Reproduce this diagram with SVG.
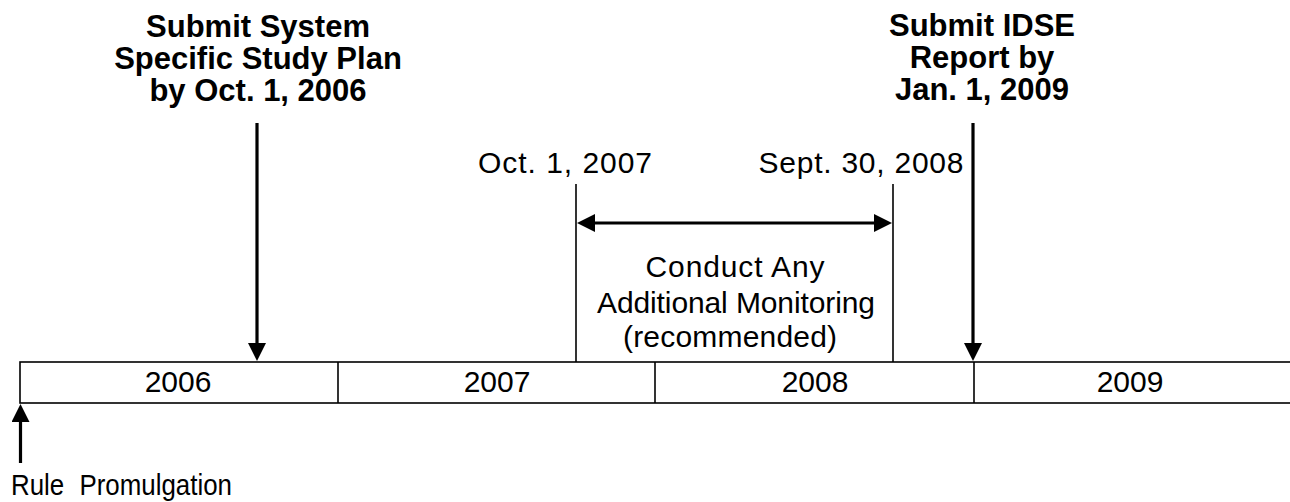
<svg xmlns="http://www.w3.org/2000/svg" width="1290" height="502" viewBox="0 0 1290 502">
  <style>
    text { font-family: "Liberation Sans", Arial, sans-serif; fill: #000; }
    .lbl { font-size: 30px; }
    .yr { font-size: 30px; text-anchor: middle; }
    .bold { font-size: 31px; font-weight: bold; text-anchor: middle; }
    .mid { text-anchor: middle; }
    .bar { fill: #fff; stroke: #000; stroke-width: 1.6; }
    .thin { stroke: #000; stroke-width: 1.6; fill: none; }
    .arrow { stroke: #000; stroke-width: 3.2; fill: none; }
  </style>
  <defs>
    <marker id="ah" viewBox="0 0 18 18" refX="8" refY="9" markerWidth="18" markerHeight="18" markerUnits="userSpaceOnUse" orient="auto-start-reverse">
      <path d="M0,0 L18,9 L0,18 Z" fill="#000"/>
    </marker>
  </defs>
  <rect width="1290" height="502" fill="#fff"/>

  <g id="timeline">
    <rect class="bar" x="20" y="362" width="1290" height="41"/>
    <line class="thin" x1="338" y1="362" x2="338" y2="403"/>
    <line class="thin" x1="655" y1="362" x2="655" y2="403"/>
    <line class="thin" x1="974" y1="362" x2="974" y2="403"/>
    <text class="yr" x="178" y="392">2006</text>
    <text class="yr" x="497" y="392">2007</text>
    <text class="yr" x="815" y="392">2008</text>
    <text class="yr" x="1130" y="392">2009</text>
  </g>

  <g id="study-plan">
    <text class="bold" x="258" y="37">Submit System</text>
    <text class="bold" x="258" y="69">Specific Study Plan</text>
    <text class="bold" x="258" y="101">by Oct. 1, 2006</text>
  </g>

  <g id="idse-report">
    <text class="bold" x="982" y="36">Submit IDSE</text>
    <text class="bold" x="982" y="68">Report by</text>
    <text class="bold" x="982" y="100">Jan. 1, 2009</text>
  </g>

  <g id="monitoring">
    <text class="lbl mid" x="565" y="173" textLength="174" lengthAdjust="spacing">Oct. 1, 2007</text>
    <text class="lbl mid" x="861" y="173" textLength="205" lengthAdjust="spacing">Sept. 30, 2008</text>
    <text class="lbl mid" x="735" y="277" textLength="179" lengthAdjust="spacing">Conduct Any</text>
    <text class="lbl mid" x="736" y="313" textLength="278" lengthAdjust="spacing">Additional Monitoring</text>
    <text class="lbl mid" x="730" y="347" textLength="214" lengthAdjust="spacing">(recommended)</text>
  </g>

  <g id="promulgation">
    <text x="11" y="495" font-size="29" word-spacing="9" textLength="221" lengthAdjust="spacingAndGlyphs">Rule Promulgation</text>
  </g>

  <g id="connectors">
    <line class="thin" x1="576" y1="184" x2="576" y2="362"/>
    <line class="thin" x1="893" y1="184" x2="893" y2="362"/>
    <line class="arrow" x1="587" y1="223" x2="882" y2="223" marker-start="url(#ah)" marker-end="url(#ah)"/>
    <line class="arrow" x1="257" y1="123" x2="257" y2="351" marker-end="url(#ah)"/>
    <line class="arrow" x1="973" y1="123" x2="973" y2="351" marker-end="url(#ah)"/>
    <line class="arrow" x1="20.5" y1="463" x2="20.5" y2="414" marker-end="url(#ah)"/>
  </g>
</svg>
